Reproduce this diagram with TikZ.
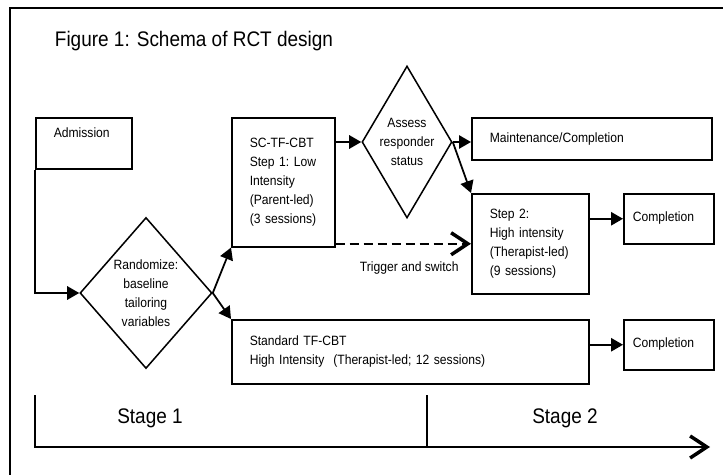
\documentclass[tikz,border=0pt]{standalone}
\usepackage{fontspec}
\setmainfont{Liberation Sans}[FakeStretch=0.9]
\usetikzlibrary{arrows.meta,shapes.geometric}
\newcommand\boxfont{\fontsize{11.5}{16.2}\selectfont}
\newcommand\bigfont{\fontsize{18}{21}\selectfont}

\begin{document}
\begin{tikzpicture}[x=0.3mm,y=-0.3mm,
  box/.style={draw,line width=1.3pt,anchor=north west,align=left,inner xsep=5.4mm,inner ysep=0pt,font=\boxfont},
  decision/.style={draw,diamond,line width=1.3pt,inner sep=0pt,align=center,font=\boxfont},
  arr/.style={line width=1.5pt,-{Triangle[length=3.6mm,width=4mm]}},
  barb/.style={-{Straight Barb[length=5mm,width=6.6mm,line width=3pt]}}]
  \useasboundingbox (0,0) rectangle (723,475);
  \clip (0,0) rectangle (723,475);
  \draw[line width=1.6pt] (10,8) rectangle (760,520);
  \node[font=\bigfont] (title) at (194,41) {Figure 1: Schema of RCT design};
  \node[box,text width=18mm,minimum height=15.3mm,text depth=6.6mm] (adm) at (35,117) {Admission};
  \node[box,text width=20.1mm,minimum height=38.7mm] (sc) at (231,117) {SC-TF-CBT\\Step~1:~Low\\Intensity\\(Parent-led)\\(3~sessions)};
  \node[box,text width=61.2mm,minimum height=12.6mm] (maint) at (471,117) {Maintenance/Completion};
  \node[box,text width=24.3mm,minimum height=30mm] (step2) at (471,193) {Step~2:\\High~intensity\\(Therapist-led)\\(9~sessions)};
  \node[box,inner xsep=2.7mm,text width=21.6mm,minimum height=15mm,text depth=1.5mm] (comp1) at (623,193) {Completion};
  \node[box,text width=96.3mm,minimum height=19.2mm] (std) at (231,319) {Standard TF-CBT\\High Intensity\ \ (Therapist-led; 12 sessions)};
  \node[box,inner xsep=2.7mm,text width=21.6mm,minimum height=15mm,text depth=1.5mm] (comp2) at (623,319) {Completion};
  \node[decision,aspect=0.8,minimum width=39.6mm,minimum height=45.3mm] (rand) at (146,293) {Randomize:\\baseline\\tailoring\\variables};
  \node[decision,aspect=0.6,minimum width=27mm,minimum height=45.6mm] (assess) at (407,142) {Assess\\responder\\status};
  \draw[arr] (adm.south west) |- (rand.west);
  \draw[arr] (rand.east) -- (sc.south west);
  \draw[arr] (rand.east) -- (std.north west);
  \draw[arr] (sc.east |- assess.west) -- (assess.west);
  \draw[arr] (assess.east) -- (assess.east -| maint.west);
  \draw[arr] (assess.east) -- (step2.north west);
  \draw[line width=1.7pt,dash pattern=on 2.7mm off 1.5mm,barb] (sc.south east |- step2.west) -- node[below=4mm,xshift=1.8mm,font=\boxfont] (trig) {Trigger and switch} (step2.west);
  \draw[arr] (step2.east |- comp1.west) -- (comp1.west);
  \draw[arr] (std.east |- comp2.west) -- (comp2.west);
  \coordinate (tlstart) at (35,395);
  \coordinate (tlend) at (710,447);
  \coordinate (tlsplit) at (427,395);
  \draw[line width=1.6pt,barb] (tlstart) |- (tlend);
  \draw[line width=1.3pt] (tlsplit) -- (tlsplit |- tlend);
  \node[font=\bigfont] (stage1) at (150,418) {Stage 1};
  \node[font=\bigfont] (stage2) at (565,418) {Stage 2};
\end{tikzpicture}
\end{document}
